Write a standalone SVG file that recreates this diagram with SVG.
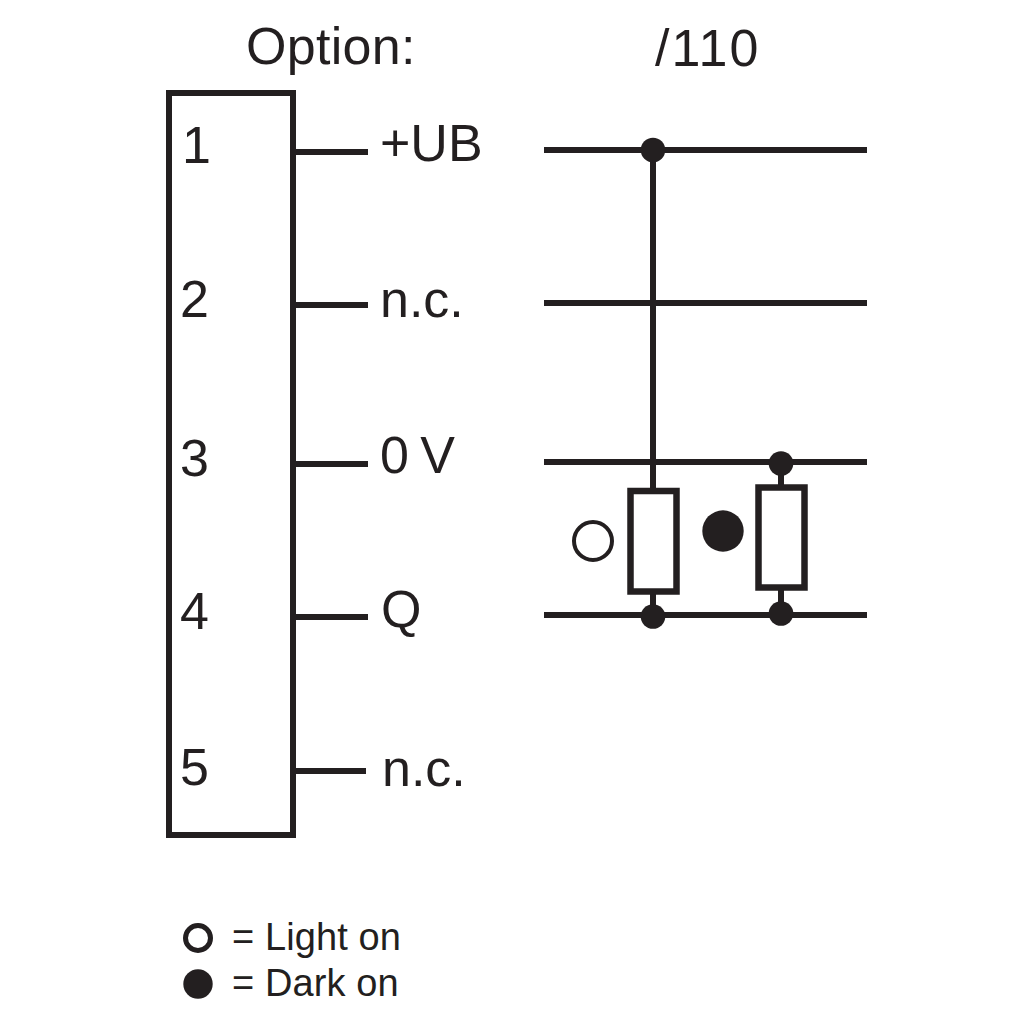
<svg xmlns="http://www.w3.org/2000/svg" width="1024" height="1024" viewBox="0 0 1024 1024">
<style>
text{font-family:"Liberation Sans",Arial,sans-serif;fill:#231f20}
.t{font-size:52px}.l{font-size:38px}
.w{stroke:#231f20;stroke-width:6;fill:none}
.b{stroke:#231f20;stroke-width:6.500;fill:#fff}
.o{stroke:#231f20;stroke-width:4;fill:#fff}
.d{fill:#231f20}
</style>
<rect width="1024" height="1024" fill="#fff"/>
<text class="t" x="246" y="64" letter-spacing="0.300">Option:</text>
<text class="t" x="655" y="66" letter-spacing="2">/110</text>
<g id="block"><rect class="w" x="169" y="93" width="124" height="742"/>
<text class="t" x="182" y="163">1</text><text class="t" x="180" y="317">2</text><text class="t" x="180" y="476">3</text><text class="t" x="180" y="629">4</text><text class="t" x="180" y="785">5</text></g>
<g id="labels"><text class="t" x="380" y="161">+UB</text><text class="t" x="380" y="317">n.c.</text><text class="t" x="380" y="473" word-spacing="-3">0 V</text><text class="t" x="381" y="627">Q</text><text class="t" x="382" y="786">n.c.</text></g>
<g id="connectors">
<path class="w" d="M296 152H368M296 305H368M296 464H368M296 617H368M296 771H366"/>
<path class="w" d="M544 150H867M544 303H867M544 462H867M544 615H867M653 150V491M781 464V487M653 591V615M781 587V615"/>
</g>
<g id="junctions"><circle class="d" cx="653" cy="150" r="12.300"/><circle class="d" cx="781" cy="463.500" r="12.300"/><circle class="d" cx="653" cy="616.500" r="12.300"/><circle class="d" cx="781" cy="613.500" r="12.300"/></g>
<g id="res1"><rect class="b" x="630.500" y="491" width="46" height="100.500"/></g>
<g id="res2"><rect class="b" x="758.500" y="487.500" width="46" height="100"/></g>
<g id="sym-light"><circle class="o" cx="593" cy="541" r="19"/></g>
<g id="sym-dark"><circle class="d" cx="723" cy="531" r="20.700"/></g>
<g id="legend"><circle class="o" style="stroke-width:5" cx="198" cy="938" r="12.500"/><circle class="d" cx="198" cy="984" r="14.700"/>
<text class="l" x="232" y="950" letter-spacing="0.100">= Light on</text><text class="l" x="232" y="996" letter-spacing="0.100">= Dark on</text></g>
</svg>
